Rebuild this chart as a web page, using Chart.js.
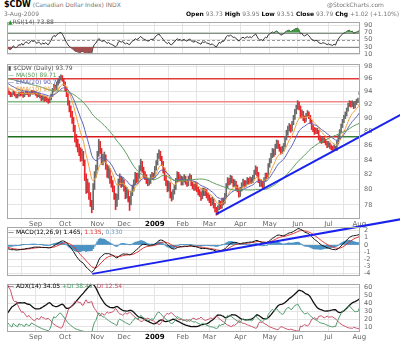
<!DOCTYPE html>
<html>
<head>
<meta charset="utf-8">
<script src="https://cdn.jsdelivr.net/npm/chart.js@4/dist/chart.umd.min.js"></script>
<style>
  body { margin: 0; background: #fff; width: 400px; height: 341px; overflow: hidden; position: relative; font-family: "DejaVu Sans", Verdana, sans-serif; }
  canvas { position: absolute; left: 0; }
  .t { position: absolute; white-space: nowrap; font-size: 6px; line-height: 7px; color: #777; z-index: 5; }
  .t b { color: #000; }
</style>
</head>
<body>
<canvas id="rsi" width="400" height="48" style="top:14px"></canvas>
<canvas id="price" width="400" height="174" style="top:56px"></canvas>
<canvas id="macd" width="400" height="70" style="top:214px"></canvas>
<canvas id="adx" width="400" height="65" style="top:276px"></canvas>

<div class="t" style="left:4px;top:1px"><b style="font-size:8px">$CDW</b> (Canadian Dollar Index) INDX</div>
<div class="t" style="left:4px;top:10px">3-Aug-2009</div>
<div class="t" style="left:327px;top:1px">@StockCharts.com</div>
<div class="t" style="left:186px;top:10px"><b>Open</b> 93.73 <b>High</b> 93.95 <b>Low</b> 93.51 <b>Close</b> 93.79 <b>Chg</b> +1.02 (+1.10%) <span style="color:#2a9a2a">&#9650;</span></div>
<div class="t" style="left:8px;top:18px;color:#555"><span style="color:#2a9a2a">&#9650;</span>RSI(14) 73.88</div>
<div class="t" style="left:8px;top:64px;color:#555">&#9646; $CDW (Daily) 93.79</div>
<div class="t" style="left:8px;top:71px;color:#5c9a5c">&#8212; MA(50) 89.71</div>
<div class="t" style="left:8px;top:78px;color:#5e62b6">&#8212; EMA(20) 90.70</div>
<div class="t" style="left:8px;top:85px;color:#e8962a">&#8212; EMA(10) 91.97</div>
<div class="t" style="left:8px;top:228px;color:#000">&#8212; MACD(12,26,9) 1.465, <span style="color:#e03030">1.135</span>, <span style="color:#6a9ac0">0.330</span></div>
<div class="t" style="left:8px;top:282px;color:#000">&#8212; ADX(14) 34.05 <span style="color:#4d9a6a">+DI 38.49</span> <span style="color:#c8506a">-DI 12.54</span></div>

<script>
const F = '"DejaVu Sans", Verdana, sans-serif';

// month gridlines: index of first trading day of each month
const monthTicks = [20, 41, 64, 83, 105, 125, 144, 166, 187, 207, 229, 251];
const monthLabels = ['Sep', 'Oct', 'Nov', 'Dec', '2009', 'Feb', 'Mar', 'Apr', 'May', 'Jun', 'Jul', 'Aug'];

// closes before the visible window (Jun-Jul 2008), only used to warm up the indicators
const priorCloses = [
  96.1, 96.4, 96.7, 96.5, 96.2, 96.6, 96.9, 96.7, 96.3, 96.0, 96.2, 96.5, 96.8, 96.6, 96.3, 96.1, 96.4,
  96.7, 96.9, 96.6, 96.3, 95.9, 96.2, 96.5, 96.8, 97.1, 96.8, 96.4, 96.1, 95.8, 96.1, 96.4, 96.2, 95.9,
  95.6, 95.9, 96.2, 96.4, 96.1, 95.8, 95.9, 96.0, 95.8, 95.5, 95.3, 95.0, 94.8, 94.6, 94.4, 94.3
];

// daily $CDW, Aug 2008 - 3 Aug 2009
const closes = [
  93.9, 93.7, 93.4, 93.6, 93.9, 93.5, 93.2, 93.4, 93.7, 93.5, 93.8, 93.3, 93.6, 93.9, 93.7, 93.4, 93.7, 94.0, 93.8, 93.9,
  93.6, 93.3, 93.6, 93.2, 92.9, 93.2, 92.8, 93.1, 92.7, 92.5, 92.9, 93.4, 94.2, 94.8, 94.5, 95.2, 95.6, 96.1, 96.3, 95.9, 95.3,
  94.4, 93.5, 92.3, 91.4, 90.6, 89.8, 88.6, 87.1, 86.4, 85.7, 85.3, 84.4, 84.9, 83.8, 81.7, 80.0, 80.6, 79.3, 78.2, 77.5, 80.4, 82.0, 82.8,
  84.8, 86.3, 85.4, 83.9, 84.2, 84.5, 83.1, 82.1, 82.6, 81.3, 80.9, 80.2, 79.2, 78.1, 78.9, 81.0, 81.5, 80.8, 81.1,
  80.2, 79.2, 79.7, 78.8, 78.2, 79.5, 80.1, 80.8, 81.9, 81.3, 81.7, 82.8, 83.6, 82.7, 82.1, 81.7, 81.2, 80.9, 81.0, 81.7, 81.8, 81.7,
  82.8, 83.5, 84.6, 85.0, 84.2, 83.6, 82.6, 81.6, 80.9, 80.1, 80.7, 79.3, 78.9, 79.7, 80.2, 81.2, 82.0, 81.4, 81.6, 80.9,
  81.3, 81.6, 81.0, 80.7, 81.5, 81.7, 80.8, 80.4, 80.2, 80.7, 80.0, 79.7, 79.4, 79.0, 79.9, 79.5, 79.8, 79.2, 79.0,
  78.7, 78.3, 78.6, 77.9, 77.4, 76.9, 77.6, 78.3, 77.8, 78.6, 78.4, 79.2, 80.4, 81.2, 80.9, 81.5, 81.2, 80.7, 80.9, 80.3, 80.0, 79.3,
  80.0, 80.6, 81.0, 80.6, 80.9, 81.3, 81.0, 81.4, 81.1, 81.6, 82.3, 82.8, 82.1, 81.2, 80.7, 80.9, 80.5, 81.3, 81.9, 81.7, 83.2,
  83.8, 84.5, 85.2, 84.9, 85.9, 86.4, 86.0, 85.6, 85.1, 85.5, 85.9, 87.0, 87.8, 88.4, 88.8, 88.3, 89.2, 90.0, 90.9, 91.5,
  92.2, 91.6, 90.3, 90.8, 89.9, 89.7, 90.4, 90.7, 90.2, 89.5, 88.6, 88.4, 87.9, 88.2, 88.0, 87.1, 86.8, 86.6, 86.9, 86.7, 86.4, 86.0,
  86.2, 85.9, 85.7, 85.5, 85.8, 85.4, 86.4, 87.2, 88.0, 88.8, 89.5, 90.1, 90.5, 91.2, 91.9, 92.3, 91.9, 92.3, 91.7, 92.2, 92.5, 92.77,
  93.79
];
const highs = [
  94.5, 94.1, 93.9, 93.8, 94.1, 94.0, 93.6, 93.6, 93.9, 93.9, 94.0, 93.9, 93.8, 94.1, 94.1, 93.8, 93.9, 94.2, 94.2, 94.1,
  94.0, 93.8, 93.8, 93.7, 93.4, 93.4, 93.3, 93.3, 93.2, 92.9, 93.1, 93.6, 94.5, 95.1, 95.0, 95.5, 95.9, 96.4, 96.6, 96.5, 96.0,
  95.5, 94.7, 93.7, 92.6, 91.8, 91.0, 90.1, 88.9, 87.6, 86.9, 86.2, 85.7, 85.5, 85.2, 84.0, 82.1, 81.4, 80.9, 79.6, 78.6, 80.8, 82.4, 83.3,
  85.2, 86.9, 86.6, 85.6, 84.8, 85.1, 84.7, 83.4, 83.2, 82.8, 81.8, 81.2, 80.5, 79.5, 79.4, 81.4, 82.1, 81.8, 81.6,
  81.3, 80.5, 80.3, 80.0, 79.1, 79.8, 80.6, 81.3, 82.3, 82.2, 82.2, 83.2, 84.1, 83.8, 83.0, 82.4, 82.0, 81.5, 81.4, 82.0, 82.3, 82.2,
  83.1, 83.9, 84.9, 85.4, 85.2, 84.5, 83.8, 82.9, 81.9, 81.2, 81.1, 80.9, 79.7, 80.0, 80.6, 81.5, 82.4, 82.3, 82.0, 81.8,
  81.7, 82.0, 81.8, 81.3, 81.8, 82.1, 81.9, 81.0, 80.7, 81.0, 80.9, 80.3, 80.0, 79.7, 80.2, 80.2, 80.1, 80.0, 79.5,
  79.3, 78.9, 79.0, 78.8, 78.2, 77.7, 77.9, 78.6, 78.5, 78.9, 78.9, 79.5, 80.8, 81.6, 81.5, 81.9, 81.8, 81.4, 81.3, 81.1, 80.6, 80.2,
  80.3, 80.9, 81.4, 81.2, 81.2, 81.6, 81.5, 81.7, 81.6, 81.9, 82.6, 83.2, 83.0, 82.3, 81.4, 81.3, 81.1, 81.6, 82.2, 82.2, 83.5,
  84.2, 84.9, 85.6, 85.5, 86.2, 86.8, 86.7, 86.2, 85.8, 85.9, 86.3, 87.3, 88.2, 88.8, 89.2, 89.0, 89.5, 90.4, 91.3, 91.9,
  92.6, 92.4, 91.8, 91.2, 91.0, 90.3, 90.7, 91.1, 90.9, 90.4, 89.7, 88.9, 88.6, 88.5, 88.5, 88.2, 87.4, 87.1, 87.2, 87.1, 86.9, 86.6,
  86.6, 86.4, 86.1, 85.9, 86.1, 85.9, 86.7, 87.5, 88.3, 89.1, 89.8, 90.4, 90.9, 91.5, 92.2, 92.6, 92.5, 92.6, 92.4, 92.5, 92.8, 93.0,
  93.95
];
const lows = [
  93.7, 93.5, 93.2, 93.2, 93.5, 93.3, 93.0, 93.0, 93.3, 93.3, 93.4, 93.1, 93.2, 93.5, 93.5, 93.2, 93.3, 93.6, 93.6, 93.6,
  93.4, 93.1, 93.2, 93.0, 92.6, 92.7, 92.5, 92.6, 92.4, 92.2, 92.3, 92.7, 93.2, 94.0, 94.2, 94.3, 95.0, 95.4, 95.8, 95.6, 94.9,
  94.1, 93.2, 91.9, 90.9, 90.1, 89.2, 88.0, 86.5, 85.8, 85.1, 84.6, 83.8, 83.9, 83.2, 81.2, 79.5, 79.6, 78.7, 77.8, 77.0, 77.4, 80.0, 81.6,
  82.6, 84.5, 84.9, 83.4, 83.3, 83.7, 82.7, 81.6, 81.5, 80.8, 80.3, 79.7, 78.7, 77.4, 77.8, 78.7, 80.6, 80.3, 80.4,
  79.8, 78.8, 78.9, 78.4, 77.3, 78.0, 79.2, 79.8, 80.6, 80.9, 81.0, 81.5, 82.5, 82.3, 81.6, 81.3, 80.8, 80.5, 80.6, 80.8, 81.4, 81.3,
  81.6, 82.6, 83.3, 84.2, 83.9, 83.2, 82.2, 81.2, 80.5, 79.7, 79.8, 78.9, 78.5, 78.7, 79.4, 80.0, 81.0, 81.1, 81.1, 80.6,
  80.6, 81.0, 80.7, 80.4, 80.5, 81.2, 80.5, 80.1, 79.9, 79.9, 79.7, 79.3, 79.1, 78.6, 78.8, 79.2, 79.2, 78.9, 78.6,
  78.3, 77.9, 78.0, 77.6, 77.1, 76.7, 76.8, 77.4, 77.5, 77.6, 78.0, 78.2, 79.0, 80.2, 80.6, 80.7, 80.9, 80.4, 80.4, 80.0, 79.7, 79.0,
  79.1, 79.8, 80.4, 80.3, 80.4, 80.7, 80.7, 80.8, 80.8, 80.9, 81.4, 82.0, 81.8, 80.9, 80.4, 80.4, 80.2, 80.3, 81.1, 81.4, 81.6,
  83.0, 83.6, 84.3, 84.5, 84.7, 85.6, 85.6, 85.2, 84.8, 84.9, 85.2, 85.8, 86.8, 87.5, 88.1, 87.9, 88.1, 89.0, 89.8, 90.6,
  91.3, 91.2, 90.0, 90.0, 89.6, 89.3, 89.5, 90.2, 89.9, 89.2, 88.3, 88.0, 87.6, 87.7, 87.7, 86.8, 86.5, 86.3, 86.4, 86.4, 86.1, 85.7,
  85.8, 85.6, 85.4, 85.3, 85.35, 85.35, 85.3, 86.2, 87.0, 87.8, 88.6, 89.3, 89.9, 90.3, 91.0, 91.7, 91.6, 91.7, 91.4, 91.5, 92.0, 92.3,
  93.51
];

// horizontal levels and trendlines (index, value)
const levelValues = [96.0, 92.43, 87.26];
const priceTrend = [[149, 76.83], [281, 90.54]];
const macdTrend = [[60.4, -4.04], [280.2, 3.57]];

// ---- indicators ----
const W = priorCloses.length;
const allC = priorCloses.concat(closes);
const allH = priorCloses.map((c, i) => Math.max(c, i ? priorCloses[i - 1] : c)).concat(highs);
const allL = priorCloses.map((c, i) => Math.min(c, i ? priorCloses[i - 1] : c)).concat(lows);

function ema(arr, n) {
  const k = 2 / (n + 1);
  let prev = null;
  return arr.map(v => (prev = prev === null ? v : v * k + prev * (1 - k)));
}
function sma(arr, n) {
  return arr.map((v, i) => {
    const s = arr.slice(Math.max(0, i - n + 1), i + 1);
    return s.reduce((a, b) => a + b, 0) / s.length;
  });
}
function rsiCalc(arr, n) {
  let ag = 0, al = 0;
  const out = [50];
  for (let i = 1; i < arr.length; i++) {
    const d = arr[i] - arr[i - 1];
    const g = Math.max(d, 0), l = Math.max(-d, 0);
    if (i <= n) { ag += g / n; al += l / n; }
    else { ag = (ag * (n - 1) + g) / n; al = (al * (n - 1) + l) / n; }
    out.push(al === 0 ? 100 : 100 - 100 / (1 + ag / al));
  }
  return out;
}
function adxCalc(h, l, c, n) {
  let trS = 0, pS = 0, mS = 0, a = null;
  const dxs = [], pdi = [0], mdi = [0], ad = [0];
  for (let i = 1; i < c.length; i++) {
    const up = h[i] - h[i - 1], dn = l[i - 1] - l[i];
    const pdm = up > dn && up > 0 ? up : 0;
    const mdm = dn > up && dn > 0 ? dn : 0;
    const tr = Math.max(h[i] - l[i], Math.abs(h[i] - c[i - 1]), Math.abs(l[i] - c[i - 1]));
    if (i <= n) { trS += tr; pS += pdm; mS += mdm; }
    else { trS = trS - trS / n + tr; pS = pS - pS / n + pdm; mS = mS - mS / n + mdm; }
    const p = trS ? 100 * pS / trS : 0, m = trS ? 100 * mS / trS : 0;
    const dx = p + m ? 100 * Math.abs(p - m) / (p + m) : 0;
    if (a === null) { dxs.push(dx); if (dxs.length === n) a = dxs.reduce((x, y) => x + y) / n; }
    else a = (a * (n - 1) + dx) / n;
    pdi.push(p); mdi.push(m); ad.push(a === null ? dx : a);
  }
  return { pdi, mdi, ad };
}

const ma50 = sma(allC, 50).slice(W);
const ema20 = ema(allC, 20).slice(W);
const ema10 = ema(allC, 10).slice(W);
const rsi = rsiCalc(allC, 14).slice(W);
const e12 = ema(allC, 12), e26 = ema(allC, 26);
const macdAll = e12.map((v, i) => v - e26[i]);
const sigAll = ema(macdAll, 9);
const macd = macdAll.slice(W), signal = sigAll.slice(W);
const hist = macd.map((v, i) => v - signal[i]);
const dmi = adxCalc(allH, allL, allC, 14);
const adx = dmi.ad.slice(W), pdi = dmi.pdi.slice(W), mdi = dmi.mdi.slice(W);

const pts = arr => arr.map((v, i) => ({ x: i, y: v }));
const barColors = closes.map((c, i) => c < (i ? closes[i - 1] : priorCloses[W - 1]) ? '#e8262b' : '#6a6a6a');

// ---- shared chart settings ----
function xScale(show, h) {
  return {
    type: 'linear', min: -0.5, max: 251.5, offset: false,
    afterBuildTicks: s => { s.ticks = monthTicks.map(v => ({ value: v })); },
    afterFit: s => { s.height = h; },
    grid: { color: '#e4e4e4', drawTicks: false },
    border: { display: false },
    ticks: {
      display: show, autoSkip: false, maxRotation: 0, padding: 1,
      callback: (v, i) => monthLabels[i],
      color: c => c.index === 4 ? '#000' : '#666',
      font: c => ({ family: F, size: 7, weight: c.index === 4 ? 'bold' : 'normal' })
    }
  };
}
function yScale(type, min, max, ticks) {
  return {
    type, position: 'right', min, max,
    afterBuildTicks: s => { s.ticks = ticks.map(v => ({ value: v })); },
    afterFit: s => { s.width = 40; },
    grid: { color: '#e4e4e4', drawTicks: false },
    border: { display: false },
    ticks: { autoSkip: false, padding: 4, color: '#666', font: { family: F, size: 6.5 }, callback: v => String(v) }
  };
}
function opts(pad, scales) {
  return {
    responsive: false, animation: false, devicePixelRatio: 1, events: [],
    layout: { padding: Object.assign({ left: 7, right: 0 }, pad) },
    plugins: { legend: { display: false }, tooltip: { enabled: false } },
    scales
  };
}
const frame = {
  id: 'frame',
  afterDraw(c) {
    const a = c.chartArea, ctx = c.ctx;
    ctx.save();
    ctx.strokeStyle = '#a8a8a8';
    ctx.lineWidth = 1;
    ctx.strokeRect(Math.round(a.left) + 0.5, Math.round(a.top) + 0.5, Math.round(a.width) - 1, Math.round(a.height) - 1);
    ctx.restore();
  }
};
function trendLine(chart, seg, color) {
  const { ctx, scales: { x, y } } = chart;
  ctx.save();
  ctx.strokeStyle = color;
  ctx.lineWidth = 2;
  ctx.beginPath();
  ctx.moveTo(x.getPixelForValue(seg[0][0]), y.getPixelForValue(seg[0][1]));
  ctx.lineTo(x.getPixelForValue(seg[1][0]), y.getPixelForValue(seg[1][1]));
  ctx.stroke();
  ctx.restore();
}
const line = (data, color, width) => ({
  type: 'line', data: pts(data), borderColor: color, borderWidth: width || 1,
  pointRadius: 0, tension: 0, fill: false, order: 1
});

// ---- RSI ----
const rsiMarks = {
  id: 'rsiMarks',
  beforeDatasetsDraw(c) {
    const { ctx, chartArea: a, scales: { y } } = c;
    ctx.save();
    ctx.lineWidth = 1;
    [[70, []], [30, []], [50, [3, 2]]].forEach(([v, dash]) => {
      const py = Math.round(y.getPixelForValue(v)) + 0.5;
      ctx.strokeStyle = v === 50 ? '#999' : '#8a8a8a';
      ctx.setLineDash(dash);
      ctx.beginPath(); ctx.moveTo(a.left, py); ctx.lineTo(a.right, py); ctx.stroke();
    });
    ctx.restore();
  }
};
new Chart(document.getElementById('rsi'), {
  type: 'line',
  data: { datasets: [
    { data: pts(rsi), borderWidth: 0, pointRadius: 0, fill: { target: { value: 70 }, above: '#3f9a3f', below: 'rgba(0,0,0,0)' } },
    { data: pts(rsi), borderWidth: 0, pointRadius: 0, fill: { target: { value: 30 }, above: 'rgba(0,0,0,0)', below: '#a34f4f' } },
    line(rsi, '#333', 1)
  ] },
  options: opts({ top: 3, bottom: 4 }, { x: xScale(false, 0), y: yScale('linear', 10, 100, [10, 30, 50, 70, 90]) }),
  plugins: [frame, rsiMarks]
});

// ---- price ----
const priceMarks = {
  id: 'priceMarks',
  beforeDatasetsDraw(c) {
    const { ctx, scales: { x, y } } = c;
    const segs = [
      [[-0.5, 251.5, '#e23a3a']],
      [[-0.5, 54, '#86b886'], [54, 251.5, '#f08a8a']],
      [[-0.5, 47, '#1e6e1e'], [47, 236, '#d81818'], [236, 251.5, '#1e6e1e']]
    ];
    ctx.save();
    ctx.lineWidth = 1.3;
    levelValues.forEach((v, k) => {
      const py = y.getPixelForValue(v);
      segs[k].forEach(([a, b, col]) => {
        ctx.strokeStyle = col;
        ctx.beginPath(); ctx.moveTo(x.getPixelForValue(a), py); ctx.lineTo(x.getPixelForValue(b), py); ctx.stroke();
      });
    });
    ctx.restore();
  },
  afterDatasetsDraw(c) { trendLine(c, priceTrend, '#1a22ee'); }
};
new Chart(document.getElementById('price'), {
  type: 'bar',
  data: { datasets: [
    line(ma50, '#5c9a5c'),
    line(ema20, '#5e62b6'),
    line(ema10, '#f0a23c'),
    { type: 'bar', data: closes.map((c, i) => ({ x: i, y: [lows[i], highs[i]] })), backgroundColor: barColors, barThickness: 1, order: 2 }
  ] },
  options: opts({ top: 6, bottom: 1 }, {
    x: xScale(true, 10),
    y: yScale('logarithmic', 76.22, 98.37, [78, 80, 82, 84, 86, 88, 90, 92, 94, 96, 98])
  }),
  plugins: [frame, priceMarks]
});

// ---- MACD ----
new Chart(document.getElementById('macd'), {
  type: 'bar',
  data: { datasets: [
    line(macd, '#111'),
    line(signal, '#e03030'),
    { type: 'bar', data: pts(hist), backgroundColor: '#4b92c4', barPercentage: 1, categoryPercentage: 1, order: 2 }
  ] },
  options: opts({ top: 13, bottom: 5 }, { x: xScale(false, 0), y: yScale('linear', -4.35, 2.5, [-4, -3, -2, -1, 0, 1, 2]) }),
  plugins: [frame, { id: 'macdTrend', afterDatasetsDraw(c) { trendLine(c, macdTrend, '#1a22ee'); } }]
});

// ---- ADX ----
new Chart(document.getElementById('adx'), {
  type: 'line',
  data: { datasets: [
    line(pdi, '#4d9a6a'),
    line(mdi, '#c8506a'),
    line(adx, '#111', 1.3)
  ] },
  options: opts({ top: 5, bottom: 0 }, { x: xScale(true, 9), y: yScale('linear', 3.6, 64.8, [10, 20, 30, 40, 50, 60]) }),
  plugins: [frame]
});
</script>
</body>
</html>
